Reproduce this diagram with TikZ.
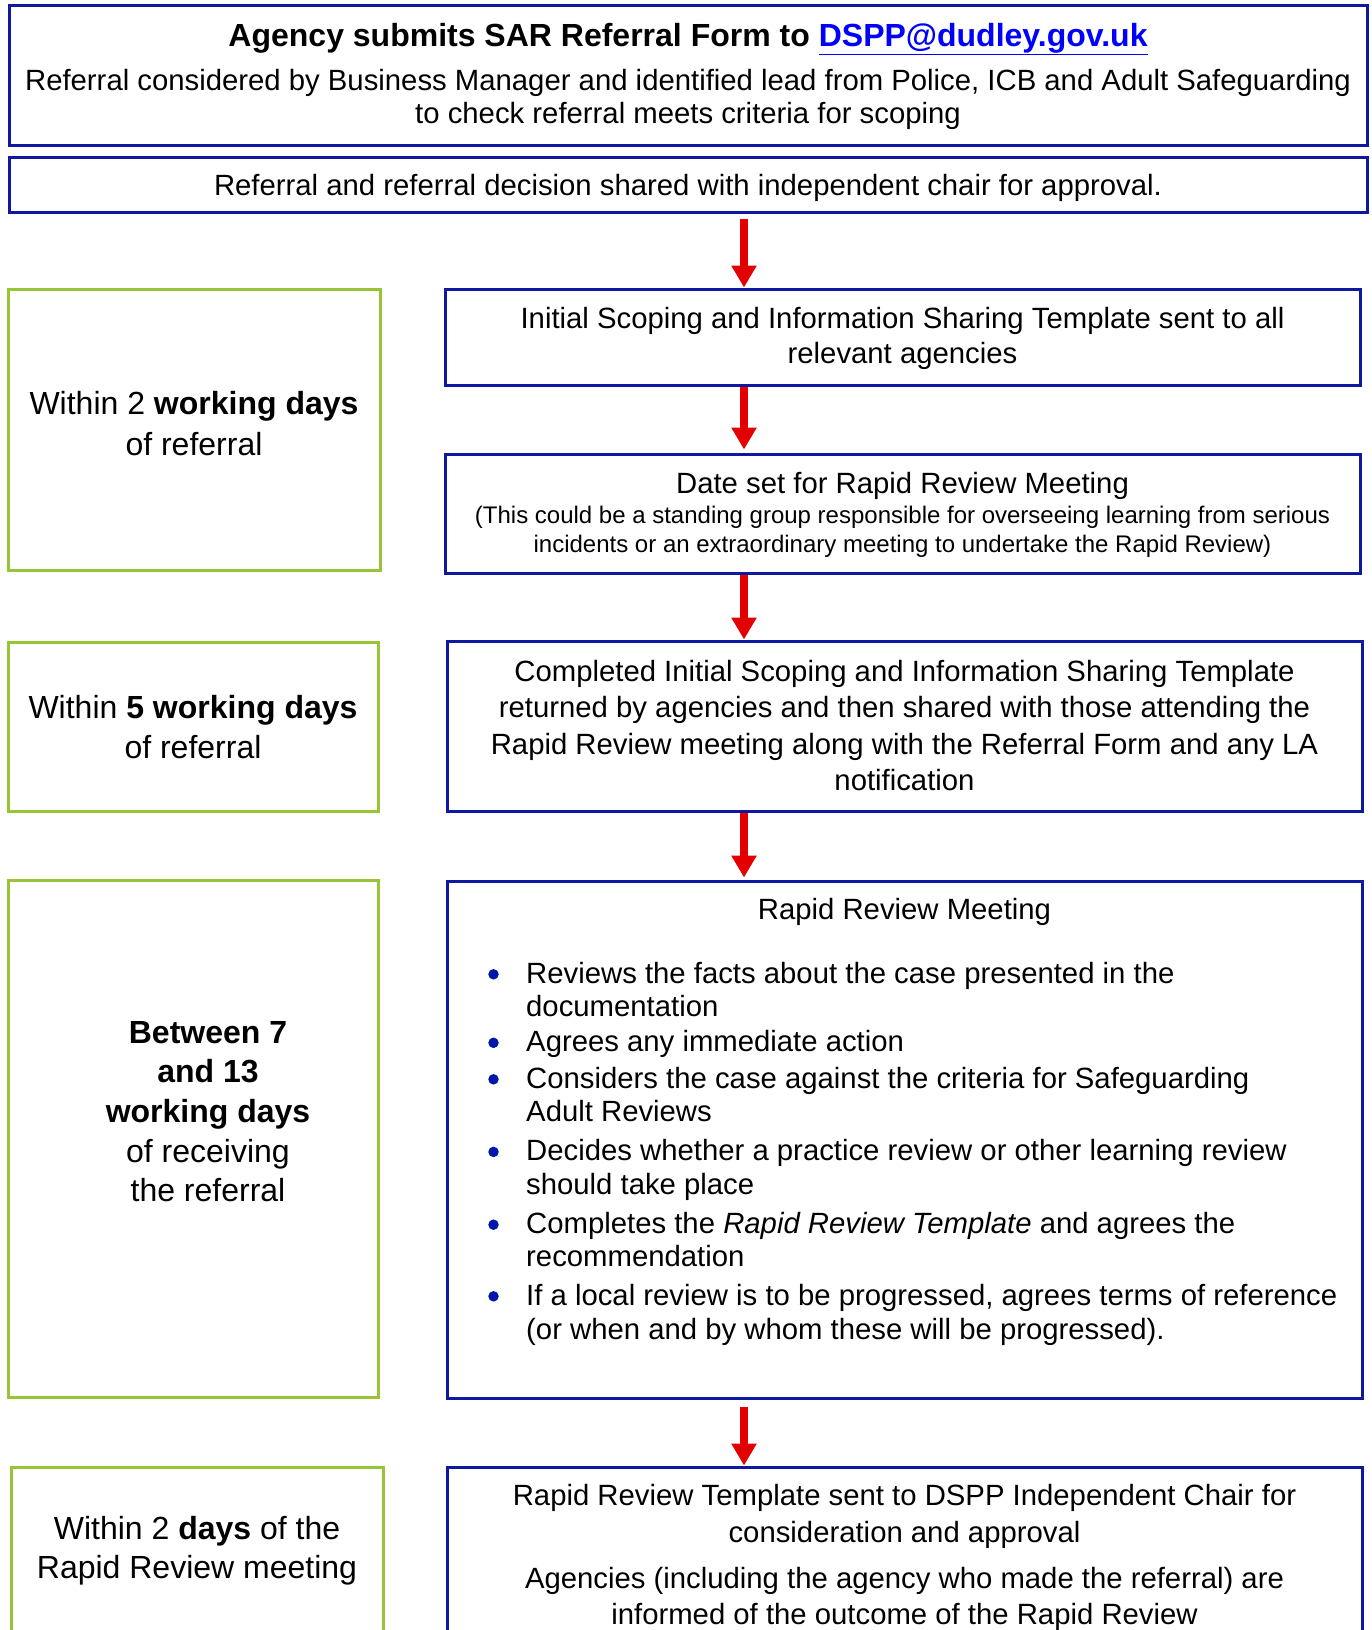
\documentclass[tikz,border=0pt]{standalone}
\usepackage{fontspec}
\setmainfont{Liberation Sans}
\usetikzlibrary{arrows.meta}
\definecolor{boxblue}{RGB}{16,24,160}
\definecolor{boxgreen}{RGB}{152,196,56}
\definecolor{arrred}{RGB}{226,0,0}
\definecolor{linkblue}{RGB}{0,0,255}
\definecolor{bulblue}{RGB}{0,24,170}
\begin{document}
\begin{tikzpicture}[x=1pt,y=-1pt,
  bluebox/.style={draw=boxblue,line width=3pt,rectangle,inner sep=0pt},
  greenbox/.style={draw=boxgreen,line width=3pt,rectangle,inner sep=0pt},
  txt/.style={font=\fontsize{29.3pt}{33pt}\selectfont,align=center,anchor=base,inner sep=0pt},
  headtxt/.style={font=\fontsize{32pt}{38pt}\selectfont,align=center,anchor=base,inner sep=0pt},
  smalltxt/.style={font=\fontsize{24pt}{29pt}\selectfont,align=center,anchor=base,inner sep=0pt},
  itemtxt/.style={font=\fontsize{29.3pt}{33.5pt}\selectfont,align=left,anchor=base west,inner sep=0pt},
  bul/.style={circle,fill=bulblue,minimum size=10.5pt,inner sep=0pt},
  arr/.style={draw=arrred,line width=8pt,-{Triangle[width=24pt,length=22pt]}}]
\useasboundingbox (0,0) rectangle (1371,1630);
\clip (0,0) rectangle (1371,1630);
\fill[white] (0,0) rectangle (1371,1630);

% boxes
\node[bluebox,minimum width=1358pt,minimum height=140pt] (b1) at (688,75) {};
\node[bluebox,minimum width=1358pt,minimum height=55pt] (b2) at (688,184.5) {};
\node[bluebox,minimum width=915pt,minimum height=96pt] (b3) at (902.5,337) {};
\node[bluebox,minimum width=915pt,minimum height=119pt] (b4) at (902.5,513.5) {};
\node[bluebox,minimum width=915pt,minimum height=170pt] (b5) at (904.5,726) {};
\node[bluebox,minimum width=915pt,minimum height=517pt] (b6) at (904.5,1139.5) {};
\node[bluebox,minimum width=915pt,minimum height=233pt] (b7) at (904.5,1583.5) {};
\node[greenbox,minimum width=372pt,minimum height=281pt] (gA) at (194,429.5) {};
\node[greenbox,minimum width=370pt,minimum height=169pt] (gB) at (193,726.5) {};
\node[greenbox,minimum width=370pt,minimum height=517pt] (gC) at (193,1138.5) {};
\node[greenbox,minimum width=372pt,minimum height=233pt] (gD) at (197,1583.5) {};

% arrows
\coordinate (ax) at (744,0);
\draw[arr] ([yshift=-5pt]b2.south -| ax) -- (b3.north -| ax);
\draw[arr] (b3.south -| ax) -- ([yshift=3pt]b4.north -| ax);
\draw[arr] (b4.south -| ax) -- (b5.north -| ax);
\draw[arr] (b5.south -| ax) -- ([yshift=2pt]b6.north -| ax);
\draw[arr] ([yshift=-7pt]b6.south -| ax) -- (b7.north -| ax);

% box 1 and 2 texts (base anchor = baseline of last line)
\node[headtxt] (t1a) at (688,46) {\textbf{Agency submits SAR Referral Form to \textcolor{linkblue}{\underline{DSPP@dudley.gov.uk}}}};
\node[txt] (t1b) at (688,123) {Referral considered by Business Manager and identified lead from Police, ICB and Adult Safeguarding\\to check referral meets criteria for scoping};
\node[txt] (t2) at (688,195) {Referral and referral decision shared with independent chair for approval.};

% right column texts
\node[txt,font=\fontsize{29.3pt}{35pt}\selectfont] (t3) at (902.5,363) {Initial Scoping and Information Sharing Template sent to all\\relevant agencies};
\node[txt] (t4a) at (902.5,493.5) {Date set for Rapid Review Meeting};
\node[smalltxt] (t4b) at (902.5,552.5) {(This could be a standing group responsible for overseeing learning from serious\\incidents or an extraordinary meeting to undertake the Rapid Review)};
\node[txt,font=\fontsize{29.3pt}{36.4pt}\selectfont] (t5) at (904.5,790.7) {Completed Initial Scoping and Information Sharing Template\\returned by agencies and then shared with those attending the\\Rapid Review meeting along with the Referral Form and any LA\\notification};
\node[txt] (t6) at (904.5,919.5) {Rapid Review Meeting};

\node[bul] (u1) at (493.5,974.3) {};
\node[itemtxt] (i1) at (526,1016.5) {Reviews the facts about the case presented in the\\documentation};
\node[bul] (u2) at (493.5,1042.8) {};
\node[itemtxt] (i2) at (526,1051.5) {Agrees any immediate action};
\node[bul] (u3) at (493.5,1079.3) {};
\node[itemtxt] (i3) at (526,1121.5) {Considers the case against the criteria for Safeguarding\\Adult Reviews};
\node[bul] (u4) at (493.5,1151.9) {};
\node[itemtxt] (i4) at (526,1194.1) {Decides whether a practice review or other learning review\\should take place};
\node[bul] (u5) at (493.5,1224.7) {};
\node[itemtxt] (i5) at (526,1266.9) {Completes the \textit{Rapid Review Template} and agrees the\\recommendation};
\node[bul] (u6) at (493.5,1296.3) {};
\node[itemtxt,font=\fontsize{29.3pt}{34.4pt}\selectfont] (i6) at (526,1339.4) {If a local review is to be progressed, agrees terms of reference\\(or when and by whom these will be progressed).};

\node[txt,font=\fontsize{29.3pt}{36.3pt}\selectfont] (t7a) at (904.5,1542) {Rapid Review Template sent to DSPP Independent Chair for\\consideration and approval};
\node[txt,font=\fontsize{29.3pt}{36.3pt}\selectfont] (t7b) at (904.5,1624.3) {Agencies (including the agency who made the referral) are\\informed of the outcome of the Rapid Review};

% left column texts
\node[headtxt,font=\fontsize{32pt}{41pt}\selectfont] (gAt) at (194,455) {Within 2 \textbf{working days}\\of referral};
\node[headtxt,font=\fontsize{32pt}{40pt}\selectfont] (gBt) at (193,758) {Within \textbf{5 working days}\\of referral};
\node[headtxt,font=\fontsize{32pt}{39.7pt}\selectfont] (gCt) at (208,1201.8) {\textbf{Between 7}\\\textbf{and 13}\\\textbf{working days}\\of receiving\\the referral};
\node[headtxt,font=\fontsize{32pt}{39.5pt}\selectfont] (gDt) at (197,1578.5) {Within 2 \textbf{days} of the\\Rapid Review meeting};
\end{tikzpicture}
\end{document}
